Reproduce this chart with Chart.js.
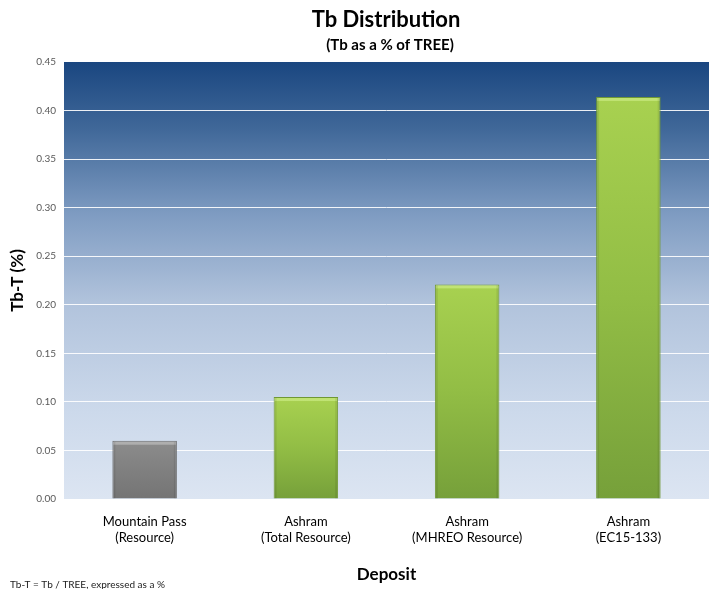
<!DOCTYPE html>
<html><head><meta charset="utf-8">
<script src="https://cdn.jsdelivr.net/npm/chart.js@4.4.0/dist/chart.umd.min.js"></script>
<style>html,body{margin:0;padding:0;background:#fff}#wrap{width:713px;height:589px}</style>
</head><body><div id="wrap"><canvas id="c" width="713" height="589"></canvas></div>
<script>
const categories = [["Mountain Pass","(Resource)"],["Ashram","(Total Resource)"],["Ashram","(MHREO Resource)"],["Ashram","(EC15-133)"]];
const values = [0.06, 0.105, 0.221, 0.414];
const yTicks = [0, 0.05, 0.10, 0.15, 0.20, 0.25, 0.30, 0.35, 0.40, 0.45];
const titleText = "Tb Distribution";
const subtitleText = "(Tb as a % of TREE)";
const footnote = "Tb-T = Tb / TREE, expressed as a %";
const FONT = "Lato, 'Open Sans', sans-serif";

function barFill(ctx){
  const chart = ctx.chart;
  const ys = chart.scales.y;
  const flat = ctx.dataIndex === 0 ? '#808080' : '#8ab544';
  if(!ys || ctx.dataIndex === undefined) return flat;
  const v = values[ctx.dataIndex];
  const top = ys.getPixelForValue(v), bot = ys.getPixelForValue(0);
  if(!isFinite(top) || !isFinite(bot) || top === bot) return flat;
  const g = chart.ctx.createLinearGradient(0, top, 0, bot);
  if(ctx.dataIndex === 0){
    g.addColorStop(0,'#8c8c8c'); g.addColorStop(1,'#747474');
  } else {
    g.addColorStop(0,'#a8d150'); g.addColorStop(0.5,'#92bd45'); g.addColorStop(1,'#76a03a');
  }
  return g;
}

const bgPlugin = {
  id:'bg',
  beforeDraw(chart){
    const {ctx, chartArea:a} = chart;
    const g = ctx.createLinearGradient(0,a.top,0,a.bottom);
    g.addColorStop(0,'#1a4680');
    g.addColorStop(0.15,'#3f6798');
    g.addColorStop(0.35,'#7f9cc2');
    g.addColorStop(0.55,'#b1c3dc');
    g.addColorStop(0.8,'#ccd9eb');
    g.addColorStop(1,'#dce5f2');
    ctx.save(); ctx.fillStyle=g; ctx.fillRect(a.left,a.top,a.right-a.left,a.bottom-a.top); ctx.restore();
  },
  afterDraw(chart){
    const ctx = chart.ctx;
    ctx.save();
    ctx.fillStyle='#000'; ctx.textAlign='center'; ctx.textBaseline='middle';
    ctx.font = "bold 22px " + FONT;
    ctx.fillText(titleText, 386, 20);
    ctx.font = "bold 15px " + FONT;
    ctx.fillText(subtitleText, 390, 45);
    ctx.textAlign='left';
    ctx.font = "10px " + FONT;
    ctx.fillStyle='#222';
    ctx.fillText(footnote, 10, 585);
    ctx.restore();
  }
};

const bevelPlugin = {
  id:'bevel',
  afterDatasetsDraw(chart){
    const ctx = chart.ctx;
    const meta = chart.getDatasetMeta(0);
    ctx.save();
    meta.data.forEach((bar,i)=>{
      const w = bar.width, x0 = bar.x - w/2, y0 = bar.y;
      ctx.fillStyle = i===0 ? 'rgba(255,255,255,0.3)' : 'rgba(230,255,170,0.4)';
      ctx.fillRect(x0+1, y0+1, w-2, 3);
      ctx.fillStyle = 'rgba(0,0,0,0.08)';
      ctx.fillRect(x0+1, y0+1, 2, bar.base - y0 - 1);
      ctx.fillRect(x0+w-3, y0+1, 2, bar.base - y0 - 1);
    });
    ctx.restore();
  }
};

new Chart(document.getElementById('c'), {
  type:'bar',
  data:{ labels: categories, datasets:[{ data: values, backgroundColor: barFill,
    borderColor: values.map((v,i)=> i===0 ? '#6a6a6a' : '#6f9834'), borderWidth:1, borderSkipped:'bottom',
    barPercentage:0.8, categoryPercentage:0.5 }]},
  options:{
    responsive:false, animation:false, devicePixelRatio:1,
    layout:{ padding:{ top:62, right:4, left:0, bottom:0 } },
    plugins:{ legend:{display:false}, tooltip:{enabled:false}, title:{display:false} },
    scales:{
      y:{ min:0, max:0.45, afterBuildTicks(s){ s.ticks = yTicks.map(v=>({value:v})); },
        afterFit(s){ s.width = 64; },
        ticks:{ callback:v=>v.toFixed(2), font:{size:10, family:FONT}, color:'#595959', padding:8 },
        grid:{ color:(c)=> (c.tick && (c.tick.value===0.45)) ? 'rgba(0,0,0,0)' : 'rgba(255,255,255,0.9)', drawTicks:false, lineWidth:1 },
        border:{display:false},
        title:{ display:true, text:'Tb-T (%)', font:{size:17, weight:'bold', family:FONT}, color:'#000', padding:{top:7,bottom:4} }
      },
      x:{ afterFit(s){ s.height = 90; },
        ticks:{ font:{size:13, family:FONT}, color:'#000', padding:7 },
        grid:{ display:false }, border:{display:false},
        title:{ display:true, text:'Deposit', font:{size:17, weight:'bold', family:FONT}, color:'#000', padding:{top:22} }
      }
    }
  },
  plugins:[bgPlugin, bevelPlugin]
});
</script></body></html>
